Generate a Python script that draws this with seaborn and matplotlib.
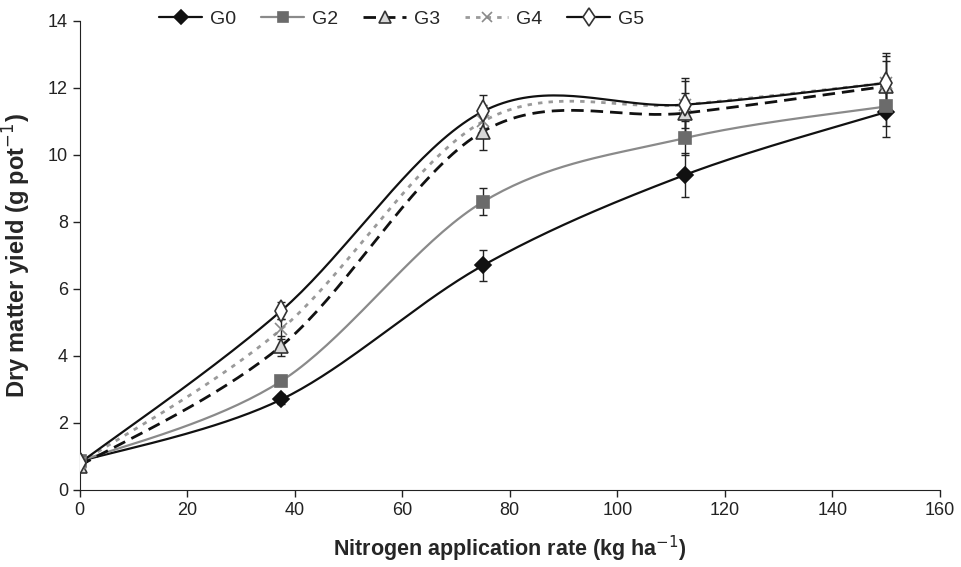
import numpy as np
import pandas as pd
import matplotlib
matplotlib.use("Agg")
import matplotlib.pyplot as plt
import seaborn as sns
from matplotlib.lines import Line2D

# ---- data ----
n_rate = [0, 37.5, 75, 112.5, 150]
g0 = [0.85, 2.70, 6.70, 9.40, 11.28]
g2 = [0.85, 3.25, 8.60, 10.50, 11.45]
g3 = [0.72, 4.30, 10.70, 11.25, 12.05]
g4 = [0.80, 4.80, 11.00, 11.50, 12.15]
g5 = [0.80, 5.35, 11.30, 11.50, 12.15]
err_g0 = [0.10, 0.15, 0.45, 0.65, 0.75]
err_g2 = [0.10, 0.12, 0.40, 0.50, 0.60]
err_g3 = [0.10, 0.30, 0.55, 0.60, 0.75]
err_g4 = [0.10, 0.30, 0.50, 0.70, 0.80]
err_g5 = [0.10, 0.25, 0.50, 0.80, 0.90]
labels = ["G0", "G2", "G3", "G4", "G5"]

series = [g0, g2, g3, g4, g5]
errs = [err_g0, err_g2, err_g3, err_g4, err_g5]

sns.set_style("ticks")
plt.rcParams['font.family'] = ['Liberation Sans', 'DejaVu Sans']

def smooth(x, y, n=40):
    # Bezier smoothing (Catmull-Rom style, as in spreadsheet smoothed lines)
    x = np.asarray(x, float); y = np.asarray(y, float)
    P = np.column_stack([x, y])
    pts = []
    for i in range(len(P) - 1):
        p0 = P[i - 1] if i > 0 else P[i]
        p1 = P[i]; p2 = P[i + 1]
        p3 = P[i + 2] if i + 2 < len(P) else P[i + 1]
        c1 = p1 + (p2 - p0) / 6.0
        c2 = p2 - (p3 - p1) / 6.0
        t = np.linspace(0, 1, n, endpoint=(i == len(P) - 2))[:, None]
        b = (1 - t) ** 3 * p1 + 3 * (1 - t) ** 2 * t * c1 + 3 * (1 - t) * t ** 2 * c2 + t ** 3 * p2
        pts.append(b)
    B = np.vstack(pts)
    return B[:, 0], B[:, 1]

styles = {
    "G0": dict(color="#111111", ls="-", lw=1.6, marker="D", ms=8.5, mfc="#111111", mec="#111111"),
    "G2": dict(color="#8a8a8a", ls="-", lw=1.6, marker="s", ms=9, mfc="#6b6b6b", mec="#6b6b6b"),
    "G3": dict(color="#111111", ls=(0, (4.5, 2.5)), lw=2.0, marker="^", ms=10, mfc="#d8d8d8", mec="#333333"),
    "G4": dict(color="#9a9a9a", ls=(0, (1.6, 2.2)), lw=2.0, marker="x", ms=9, mfc="none", mec="#8a8a8a"),
    "G5": dict(color="#111111", ls="-", lw=1.6, marker="d", ms=11, mfc="white", mec="#333333"),
}

fig = plt.figure(figsize=(9.61, 5.67), dpi=100)
ax = fig.add_axes([0.083, 0.136, 0.895, 0.827])

handles = []
for lab, y, e in zip(labels, series, errs):
    st = styles[lab]
    sx, sy = smooth(n_rate, y)
    df = pd.DataFrame({"x": sx, "y": sy})
    sns.lineplot(data=df, x="x", y="y", ax=ax, color=st["color"], sort=False,
                 estimator=None, lw=st["lw"], zorder=2)
    ax.lines[-1].set_linestyle(st["ls"])
    ax.errorbar(n_rate, y, yerr=e, fmt="none", ecolor="#222222", elinewidth=1.0,
                capsize=3, capthick=1.0, zorder=3)
    ax.plot(n_rate, y, ls="none", marker=st["marker"], ms=st["ms"], mfc=st["mfc"],
            mec=st["mec"], mew=1.2, zorder=4)
    handles.append(Line2D([], [], color=st["color"], ls=st["ls"], lw=st["lw"],
                          marker=st["marker"], ms=st["ms"] * 0.85, mfc=st["mfc"], mec=st["mec"], mew=1.2))

ax.set_xlim(0, 160)
ax.set_ylim(0, 14)
ax.set_xticks(np.arange(0, 161, 20))
ax.set_yticks(np.arange(0, 15, 2))
ax.tick_params(axis="both", labelsize=13, direction="out", length=5, width=1, colors="#222222")
for s in ["left", "bottom"]:
    ax.spines[s].set_color("#222222")
sns.despine(ax=ax)
ax.set_xlabel("Nitrogen application rate (kg ha$^{-1}$)", fontsize=15.5, fontweight="bold", labelpad=11)
ax.set_ylabel("Dry matter yield (g pot$^{-1}$)", fontsize=17, fontweight="bold", labelpad=11)

fig.legend(handles, labels, loc="center", bbox_to_anchor=(0.418, 0.967), ncol=5, frameon=False,
           fontsize=14, handlelength=2.2, columnspacing=1.3, handletextpad=0.4)

fig.savefig("out.png", dpi=100)
